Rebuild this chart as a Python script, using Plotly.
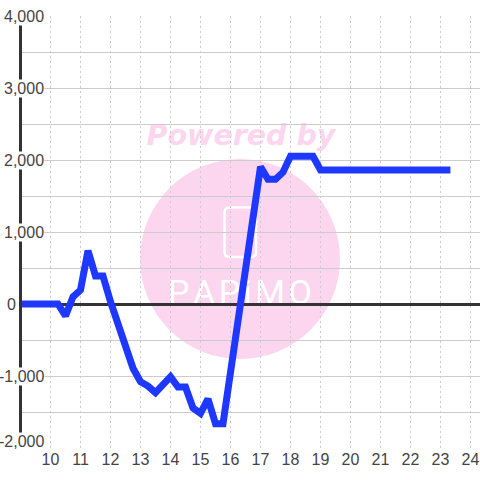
import plotly.graph_objects as go

hours = [8.9, 10.25, 10.5, 10.75, 11, 11.25, 11.5, 11.75, 12, 12.25, 12.5, 12.75, 13, 13.25, 13.5, 13.75,
         14, 14.25, 14.5, 14.75, 15, 15.25, 15.5, 15.75, 16, 16.25, 16.5, 16.75, 17, 17.25, 17.5, 17.75,
         18, 18.25, 18.5, 18.75, 19, 23.33]
values = [0, 0, -167, 100, 194, 740, 389, 389, 32, -268, -639, -892, -1079, -1139, -1231, -1110,
          -1009, -1153, -1153, -1444, -1519, -1319, -1662, -1662, -917, -250, 480, 1200, 1907, 1733, 1733, 1830,
          2051, 2051, 2051, 2051, 1861, 1861]
x_ticks = list(range(10, 25))
y_grid = list(range(-2000, 4001, 500))
y_labels = {4000: "4,000", 3000: "3,000", 2000: "2,000", 1000: "1,000", 0: "0", -1000: "-1,000", -2000: "-2,000"}

W, H = 480, 480
LEFT, TOP, RIGHT, BOTTOM = 22, 16, 0, 32
PW, PH = W - LEFT - RIGHT, H - TOP - BOTTOM
px = lambda v: (v - LEFT) / PW
py = lambda v: 1 - (v - TOP) / PH

INK = "#444444"
AXIS = "#333333"
GRID = "#cccccc"
PINK = "#fcd6ee"
FONT = "Liberation Sans"


def rounded_rect(x0, y0, x1, y1, r):
    xa, xb, xc, xd = px(x0), px(x0 + r), px(x1 - r), px(x1)
    ya, yb, yc, yd = py(y0), py(y0 + r), py(y1 - r), py(y1)
    return (f"M{xb},{ya} L{xc},{ya} Q{xd},{ya} {xd},{yb} L{xd},{yc} Q{xd},{yd} {xc},{yd} "
            f"L{xb},{yd} Q{xa},{yd} {xa},{yc} L{xa},{yb} Q{xa},{ya} {xb},{ya} Z")


fig = go.Figure(go.Scatter(x=hours, y=values, mode="lines", cliponaxis=False,
                           line=dict(color="#1f38ff", width=7), hoverinfo="skip"))

annotations = []
for v, t in y_labels.items():
    annotations.append(dict(
        x=px(17 if v == 0 else 44.5), xref="paper", y=v, yref="y", text=t, showarrow=False,
        xanchor="right", yanchor="middle", yshift=6.5 if v == -2000 else 0,
        font=dict(family=FONT, size=16, color=INK),
        bgcolor="white" if v != 0 else None, borderpad=0))

shapes = [
    dict(type="circle", xref="paper", yref="paper", x0=px(140), x1=px(340), y0=py(359), y1=py(159),
         fillcolor=PINK, line_width=0, layer="below"),
    dict(type="path", xref="paper", yref="paper", path=rounded_rect(224.5, 207.5, 256, 257, 5),
         fillcolor="rgba(0,0,0,0)", line=dict(color="white", width=2.5), layer="below"),
    dict(type="rect", xref="paper", yref="paper", x0=px(140), x1=px(342), y0=py(148), y1=py(118),
         fillcolor="rgba(0,0,0,0)", line_width=0, layer="below",
         label=dict(text="Powered by", textposition="middle center",
                    font=dict(family="DejaVu Sans", size=28.5, color=PINK, weight="bold", style="italic"))),
    dict(type="rect", xref="paper", yref="paper", x0=px(140), x1=px(340), y0=py(306), y1=py(274),
         fillcolor="rgba(0,0,0,0)", line_width=0, layer="below",
         label=dict(text="P\u200aA\u200aP\u200ai\u200aM\u200aO", textposition="middle center",
                    font=dict(family="Roboto", size=34, color="white", weight=400))),
]

fig.update_layout(
    width=W, height=H, autosize=False, showlegend=False,
    margin=dict(l=LEFT, r=RIGHT, t=TOP, b=BOTTOM, pad=0),
    paper_bgcolor="white", plot_bgcolor="rgba(0,0,0,0)",
    annotations=annotations, shapes=shapes,
    xaxis=dict(range=[10 - 28.5 / 30, 24 + 9.5 / 30], tickvals=x_ticks, ticktext=[str(v) for v in x_ticks],
               showgrid=True, gridcolor=GRID, gridwidth=1, griddash="2px,3px", zeroline=False, showline=False,
               ticks="", ticklen=0, tickfont=dict(family=FONT, size=16, color=INK)),
    yaxis=dict(range=[-2000, 4000], tickvals=y_grid, showticklabels=False, showgrid=True, gridcolor=GRID,
               gridwidth=1, zeroline=True, zerolinecolor=AXIS, zerolinewidth=3,
               showline=True, linecolor=AXIS, linewidth=3, ticks=""),
)

fig.write_html("out.html", config=dict(displayModeBar=False),
               post_script="document.body.style.margin='0';document.body.style.overflow='hidden';")
